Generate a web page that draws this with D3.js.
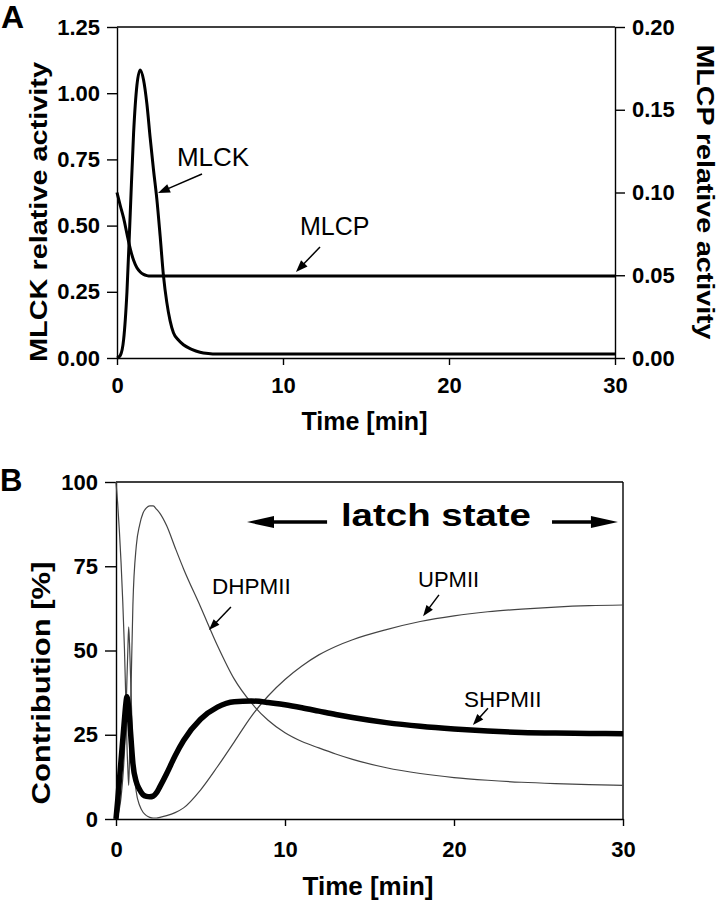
<!DOCTYPE html>
<html><head><meta charset="utf-8">
<script src="https://cdn.jsdelivr.net/npm/d3@7/dist/d3.min.js"></script>
<style>
body{margin:0;background:#fff}
svg{display:block}
text{font-family:"Liberation Sans",Arial,Helvetica,sans-serif}
</style>
</head><body>
<svg id="c" width="719" height="900"></svg>
<script>
// ---------- DATA ----------
const xTickValues = [0, 10, 20, 30];
const xTickLabels = ["0", "10", "20", "30"];

// Panel A
const yTickValuesA = [0, 0.25, 0.5, 0.75, 1.0, 1.25];
const yTickLabelsA = ["0.00", "0.25", "0.50", "0.75", "1.00", "1.25"];
const yTickValuesA2 = [0, 0.05, 0.10, 0.15, 0.20];
const yTickLabelsA2 = ["0.00", "0.05", "0.10", "0.15", "0.20"];
const timeA = [0,0.2,0.4,0.6,0.8,1.0,1.2,1.4,1.6,1.8,2.0,2.2,2.4,2.6,2.8,3.0,3.2,3.4,3.7,4.0,4.5,5.0,5.5,6,8,10,15,20,25,30];
const mlck  = [0,0.01,0.07,0.25,0.55,0.85,1.03,1.088,1.05,0.96,0.83,0.71,0.60,0.46,0.31,0.21,0.14,0.095,0.068,0.05,0.033,0.022,0.017,0.015,0.015,0.015,0.015,0.015,0.015,0.015];
const mlcp  = [0.100,0.092,0.0845,0.075,0.066,0.059,0.0545,0.052,0.0505,0.0498,0.0495,0.0495,0.0495,0.0495,0.0495,0.0495,0.0495,0.0495,0.0495,0.0495,0.0495,0.0495,0.0495,0.0495,0.0495,0.0495,0.0495,0.0495,0.0495,0.0495];

// Panel B
const yTickValuesB = [0, 25, 50, 75, 100];
const yTickLabelsB = ["0", "25", "50", "75", "100"];
const timeB  = [0,0.1,0.2,0.3,0.4,0.5,0.6,0.65,0.7,0.75,0.8,0.9,1.0,1.2,1.4,1.6,1.8,2.0,2.2,2.4,2.6,3.0,3.5,4.0,5.0,6.0,7.0,8.0,9.0,10,11,12,13,14,16,18,20,22,24,26,28,30];
const shpmii = [0,5.5,11.5,17.5,23.5,29.5,35,36.3,35,33,30,23,16.5,11,8.7,7.2,6.7,6.6,6.8,7.8,9.6,13.5,18.8,23.3,29.6,33.2,34.8,35,34.6,33.9,33.0,32.0,31.0,30.1,28.6,27.5,26.7,26.1,25.7,25.5,25.4,25.3];
const upmii  = [0,1,3,6.5,12,20,33,42,50,57,52,36,20,8,4,2,1,0.5,0.3,0.3,0.5,1.0,1.9,3.3,8.6,15.5,22.9,30.4,36.5,41.4,45.4,48.7,51.2,53.2,56.2,58.6,60.3,61.5,62.3,62.9,63.3,63.5];
const dhpmii = [100,93.5,85.5,76,64.5,50.5,32,21.7,15,10,18,41,63.5,81,87.3,90.8,92.3,92.9,92.9,91.9,90.7,87,80.5,74.2,63,51.5,41.5,34.5,29.3,25.6,23.0,21.1,19.3,17.7,15.2,13.5,12.3,11.5,10.9,10.5,10.2,10.0];

// annotation anchors in data units
const annotA = [
  {label:"MLCK", size:26, tx:3.61, tv:0.725, ax:5.12, av:0.695, bx:2.47, bv:0.623},
  {label:"MLCP", size:25, tx:11.02, tv:0.4645, ax:12.23, av:0.419, bx:10.78, bv:0.325}
];
const annotB = [
  {label:"DHPMII", size:22.5, tx:5.68, tv:66.8, ax:6.80, av:62.9, bx:5.50, bv:56.1},
  {label:"UPMII", size:22, tx:17.87, tv:68.8, ax:19.11, av:66.5, bx:18.17, bv:60.2},
  {label:"SHPMII", size:22.5, tx:20.59, tv:33.2, ax:22.01, av:32.9, bx:21.12, bv:27.9}
];
const latch = {label:"latch state", tx:13.31, tv:86.9, av:88.1, leftFrom:12.49, leftTo:7.75, rightFrom:25.8, rightTo:29.7};

// ---------- DRAW ----------
const svg = d3.select("#c");
const AX = 1.4;

function arrow(g, x1, y1, x2, y2, hl, hw, lw) {
  const dx = x2 - x1, dy = y2 - y1, L = Math.hypot(dx, dy);
  const ux = dx / L, uy = dy / L;
  const bx = x2 - ux * hl, by = y2 - uy * hl;
  g.append("line").attr("x1", x1).attr("y1", y1).attr("x2", bx + ux*1).attr("y2", by + uy*1)
    .attr("stroke", "#000").attr("stroke-width", lw);
  g.append("path").attr("d",
    `M${x2},${y2}L${bx - uy*hw/2},${by + ux*hw/2}L${bx + uy*hw/2},${by - ux*hw/2}Z`)
    .attr("fill", "#000");
}

function styleAxis(g, fs) {
  g.select(".domain").attr("stroke", "#000").attr("stroke-width", AX);
  g.selectAll(".tick line").attr("stroke", "#000").attr("stroke-width", AX);
  g.selectAll(".tick text").attr("fill", "#000").attr("font-size", fs).attr("font-weight", "bold")
    .attr("font-family", '"Liberation Sans",Arial,sans-serif');
}

// ===== Panel A =====
const xA = d3.scaleLinear().domain([0, 30]).range([117, 615]);
const yA = d3.scaleLinear().domain([0, 1.25]).range([358, 27]);
const yA2 = d3.scaleLinear().domain([0, 0.2]).range([358, 27]);

const gA = svg.append("g");
gA.append("line").attr("x1", xA(0)).attr("x2", xA(30)).attr("y1", yA(1.25)).attr("y2", yA(1.25))
  .attr("stroke", "#000").attr("stroke-width", AX);

const axAL = gA.append("g").attr("transform", `translate(${xA(0)},0)`)
  .call(d3.axisLeft(yA).tickValues(yTickValuesA).tickFormat((d,i)=>yTickLabelsA[i]).tickSize(10).tickSizeOuter(0).tickPadding(7));
styleAxis(axAL, 22);
const axAR = gA.append("g").attr("transform", `translate(${xA(30)},0)`)
  .call(d3.axisRight(yA2).tickValues(yTickValuesA2).tickFormat((d,i)=>yTickLabelsA2[i]).tickSize(10).tickSizeOuter(0).tickPadding(7));
styleAxis(axAR, 22);
const axAB = gA.append("g").attr("transform", `translate(0,${yA(0)})`)
  .call(d3.axisBottom(xA).tickValues(xTickValues).tickFormat((d,i)=>xTickLabels[i]).tickSize(7).tickSizeOuter(0).tickPadding(12));
styleAxis(axAB, 22);

const lineA = d3.line().x((d,i)=>xA(timeA[i])).y(d=>yA(d)).curve(d3.curveMonotoneX);
const lineA2 = d3.line().x((d,i)=>xA(timeA[i])).y(d=>yA2(d)).curve(d3.curveMonotoneX);
gA.append("path").datum(mlcp).attr("d", lineA2).attr("fill","none").attr("stroke","#000").attr("stroke-width",3);
gA.append("path").datum(mlck).attr("d", lineA).attr("fill","none").attr("stroke","#000").attr("stroke-width",3);

annotA.forEach(a => {
  gA.append("text").attr("x", xA(a.tx)).attr("y", yA(a.tv)).attr("font-size", a.size).text(a.label);
  arrow(gA, xA(a.ax), yA(a.av), xA(a.bx), yA(a.bv), 12, 9, 1.5);
});

gA.append("text").attr("x", 364.5).attr("y", 430).attr("text-anchor","middle")
  .attr("font-size", 25).attr("font-weight","bold").text("Time [min]");
gA.append("text").attr("transform", "translate(47,212) rotate(-90)").attr("text-anchor","middle")
  .attr("font-size", 24).attr("font-weight","bold")
  .attr("textLength", 300).attr("lengthAdjust","spacingAndGlyphs").text("MLCK relative activity");
gA.append("text").attr("transform", "translate(697,192) rotate(90)").attr("text-anchor","middle")
  .attr("font-size", 24).attr("font-weight","bold")
  .attr("textLength", 295).attr("lengthAdjust","spacingAndGlyphs").text("MLCP relative activity");
svg.append("text").attr("x", 1).attr("y", 28).attr("font-size", 32).attr("font-weight","bold").text("A");

// ===== Panel B =====
const xB = d3.scaleLinear().domain([0, 30]).range([116, 623]);
const yB = d3.scaleLinear().domain([0, 100]).range([819, 482]);
const gB = svg.append("g");
gB.append("line").attr("x1", xB(0)).attr("x2", xB(30)).attr("y1", yB(100)).attr("y2", yB(100))
  .attr("stroke", "#000").attr("stroke-width", AX);
gB.append("line").attr("x1", xB(30)).attr("x2", xB(30)).attr("y1", yB(100)).attr("y2", yB(0))
  .attr("stroke", "#000").attr("stroke-width", AX);
const axBL = gB.append("g").attr("transform", `translate(${xB(0)},0)`)
  .call(d3.axisLeft(yB).tickValues(yTickValuesB).tickFormat((d,i)=>yTickLabelsB[i]).tickSize(11).tickSizeOuter(0).tickPadding(7));
styleAxis(axBL, 22);
const axBB = gB.append("g").attr("transform", `translate(0,${yB(0)})`)
  .call(d3.axisBottom(xB).tickValues(xTickValues).tickFormat((d,i)=>xTickLabels[i]).tickSize(7).tickSizeOuter(0).tickPadding(15));
styleAxis(axBB, 22);

const lineB = d3.line().x((d,i)=>xB(timeB[i])).y(d=>yB(d)).curve(d3.curveMonotoneX);
gB.append("path").datum(dhpmii).attr("d", lineB).attr("fill","none").attr("stroke","#444").attr("stroke-width",1.2);
gB.append("path").datum(upmii).attr("d", lineB).attr("fill","none").attr("stroke","#444").attr("stroke-width",1.2);
gB.append("path").datum(shpmii).attr("d", lineB).attr("fill","none").attr("stroke","#000").attr("stroke-width",5.5);

annotB.forEach(a => {
  gB.append("text").attr("x", xB(a.tx)).attr("y", yB(a.tv)).attr("font-size", a.size).text(a.label);
  arrow(gB, xB(a.ax), yB(a.av), xB(a.bx), yB(a.bv), 11, 8, 1.5);
});
gB.append("text").attr("x", xB(latch.tx)).attr("y", yB(latch.tv)).attr("font-size", 32).attr("font-weight","bold")
  .attr("textLength", 190).attr("lengthAdjust","spacingAndGlyphs").text(latch.label);
arrow(gB, xB(latch.leftFrom), yB(latch.av), xB(latch.leftTo), yB(latch.av), 27, 12, 3.5);
arrow(gB, xB(latch.rightFrom), yB(latch.av), xB(latch.rightTo), yB(latch.av), 27, 12, 3.5);

gB.append("text").attr("x", 368).attr("y", 895).attr("text-anchor","middle")
  .attr("font-size", 26).attr("font-weight","bold").text("Time [min]");
gB.append("text").attr("transform", "translate(49.5,683) rotate(-90)").attr("text-anchor","middle")
  .attr("font-size", 26).attr("font-weight","bold")
  .attr("textLength", 243).attr("lengthAdjust","spacingAndGlyphs").text("Contribution [%]");
svg.append("text").attr("x", 0).attr("y", 491).attr("font-size", 31).attr("font-weight","bold").text("B");
</script>
</body></html>
